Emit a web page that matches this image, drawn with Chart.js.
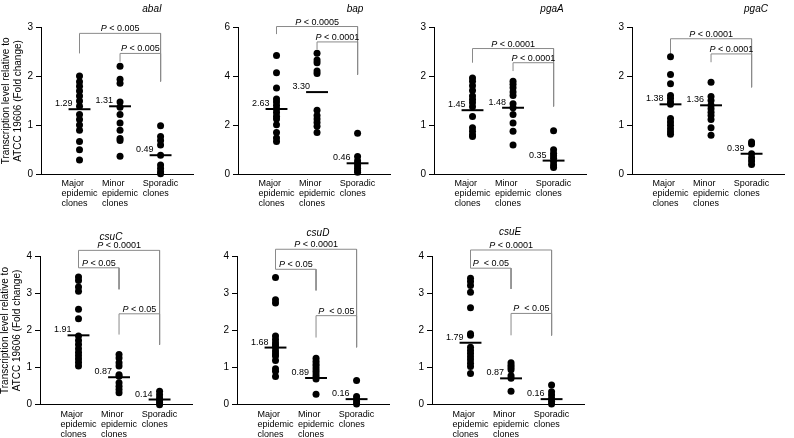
<!DOCTYPE html>
<html>
<head>
<meta charset="utf-8">
<script src="https://cdn.jsdelivr.net/npm/chart.js@4.4.0/dist/chart.umd.min.js"></script>
<style>
  html, body { margin: 0; padding: 0; background: #fff; }
  #wrap { position: relative; width: 794px; height: 438px; overflow: hidden; }
  #wrap canvas { position: absolute; }
</style>
</head>
<body>
<div id="wrap"></div>
<script>
// Categorias e eixos
const grupos = [["Major", "epidemic", "clones"], ["Minor", "epidemic", "clones"], ["Sporadic", "clones"]];
const genes = ["abaI", "bap", "pgaA", "pgaC", "csuC", "csuD", "csuE"];
const yMax = [3, 6, 3, 3, 4, 4, 4];
const yPasso = [1, 2, 1, 1, 1, 1, 1];
const tituloY = ["Transcription level relative to", "ATCC 19606 (Fold change)"];

// abaI
const abaIMajor = [2.01, 1.89, 1.80, 1.70, 1.60, 1.50, 1.39, 1.22, 1.12, 1.01, 0.90, 0.67, 0.50, 0.29];
const abaIMinor = [2.21, 1.94, 1.86, 1.48, 1.37, 1.22, 1.05, 0.90, 0.73, 0.69, 0.37];
const abaISporadic = [0.99, 0.77, 0.69, 0.60, 0.39, 0.19, 0.12, 0.05, 0.01];
const abaIMedia = [1.33, 1.39, 0.39];
const abaIRotulos = ["1.29", "1.31", "0.49"];
const abaIBarras = [[1, 3, 2.88, 2.47, 1.90], [2, 3, 2.47, 2.30, 1.90]];
const abaIP = [" < 0.005", " < 0.005"];

// bap
const bapMajor = [4.86, 4.15, 3.53, 3.08, 2.95, 2.81, 2.67, 2.53, 2.37, 2.26, 2.03, 1.71, 1.48, 1.34];
const bapMinor = [4.95, 4.67, 4.56, 4.22, 4.12, 2.62, 2.40, 2.26, 2.12, 1.96, 1.71];
const bapSporadic = [1.68, 0.73, 0.55, 0.45, 0.35, 0.25, 0.15, 0.08];
const bapMedia = [2.67, 3.36, 0.45];
const bapRotulos = ["2.63", "3.30", "0.46"];
const bapBarras = [[1, 3, 6.04, 5.73, 4.08], [2, 3, 5.41, 5.11, 4.08]];
const bapP = [" < 0.0005", " < 0.0001"];

// pgaA
const pgaAMajor = [1.97, 1.90, 1.81, 1.71, 1.60, 1.53, 1.46, 1.38, 1.18, 0.95, 0.88, 0.81, 0.77];
const pgaAMinor = [1.90, 1.84, 1.77, 1.68, 1.61, 1.44, 1.36, 1.22, 1.05, 0.88, 0.60];
const pgaASporadic = [0.89, 0.50, 0.43, 0.38, 0.33, 0.26, 0.19, 0.14];
const pgaAMedia = [1.31, 1.36, 0.28];
const pgaARotulos = ["1.45", "1.48", "0.35"];
const pgaABarras = [[1, 3, 2.57, 2.28, 1.39], [2, 3, 2.28, 2.11, 1.39]];
const pgaAP = [" < 0.0001", " < 0.0001"];

// pgaC
const pgaCMajor = [2.40, 2.04, 1.85, 1.61, 1.55, 1.48, 1.43, 1.14, 1.07, 1.00, 0.93, 0.87, 0.82];
const pgaCMinor = [1.88, 1.59, 1.51, 1.41, 1.34, 1.27, 1.20, 1.12, 0.95, 0.80];
const pgaCSporadic = [0.66, 0.62, 0.42, 0.34, 0.27, 0.20];
const pgaCMedia = [1.43, 1.41, 0.42];
const pgaCRotulos = ["1.38", "1.36", "0.39"];
const pgaCBarras = [[1, 3, 2.77, 2.46, 1.78], [2, 3, 2.46, 2.29, 1.78]];
const pgaCP = [" < 0.0001", " < 0.0001"];

// csuC
const csuCMajor = [3.44, 3.35, 3.17, 3.06, 2.57, 2.32, 1.85, 1.73, 1.62, 1.51, 1.41, 1.32, 1.23, 1.14, 1.04];
const csuCMinor = [1.35, 1.26, 1.13, 1.04, 0.81, 0.77, 0.59, 0.50, 0.41, 0.32];
const csuCSporadic = [0.36, 0.27, 0.18, 0.11, 0.05, 0.00];
const csuCMedia = [1.87, 0.74, 0.14];
const csuCRotulos = ["1.91", "0.87", "0.14"];
const csuCBarras = [[1, 3, 4.16, 3.69, 1.62], [1, 2, 3.69, 3.69, 3.11], [2, 3, 2.45, 1.89, 1.62]];
const csuCP = [" < 0.0001", " < 0.05", " < 0.05"];

// csuD
const csuDMajor = [3.43, 2.83, 2.74, 1.85, 1.76, 1.67, 1.61, 1.54, 1.45, 1.37, 1.31, 1.19, 0.97, 0.90, 0.76];
const csuDMinor = [1.25, 1.17, 1.10, 1.04, 0.97, 0.90, 0.83, 0.76, 0.69, 0.28];
const csuDSporadic = [0.65, 0.22, 0.15, 0.08, 0.02];
const csuDMedia = [1.54, 0.72, 0.15];
const csuDRotulos = ["1.68", "0.89", "0.16"];
const csuDBarras = [[1, 3, 4.19, 3.65, 1.55], [1, 2, 3.65, 3.65, 3.08], [2, 3, 2.40, 1.81, 1.55]];
const csuDP = [" < 0.0001", " < 0.05", "  < 0.05"];

// csuE
const csuEMajor = [3.41, 3.32, 3.21, 3.03, 2.61, 1.91, 1.87, 1.55, 1.46, 1.38, 1.29, 1.21, 1.12, 1.03, 0.84];
const csuEMinor = [1.13, 1.06, 1.00, 0.94, 0.78, 0.71, 0.36];
const csuESporadic = [0.53, 0.35, 0.26, 0.17, 0.09, 0.02];
const csuEMedia = [1.67, 0.71, 0.15];
const csuERotulos = ["1.79", "0.87", "0.16"];
const csuEBarras = [[1, 3, 4.17, 3.68, 1.87], [1, 2, 3.68, 3.68, 3.12], [2, 3, 2.46, 1.87, 1.87]];
const csuEP = [" < 0.0001", "  < 0.05", "  < 0.05"];

const paineis = [
  { pontos: [abaIMajor, abaIMinor, abaISporadic], media: abaIMedia, rotulos: abaIRotulos, barras: abaIBarras, p: abaIP },
  { pontos: [bapMajor, bapMinor, bapSporadic], media: bapMedia, rotulos: bapRotulos, barras: bapBarras, p: bapP },
  { pontos: [pgaAMajor, pgaAMinor, pgaASporadic], media: pgaAMedia, rotulos: pgaARotulos, barras: pgaABarras, p: pgaAP },
  { pontos: [pgaCMajor, pgaCMinor, pgaCSporadic], media: pgaCMedia, rotulos: pgaCRotulos, barras: pgaCBarras, p: pgaCP },
  { pontos: [csuCMajor, csuCMinor, csuCSporadic], media: csuCMedia, rotulos: csuCRotulos, barras: csuCBarras, p: csuCP },
  { pontos: [csuDMajor, csuDMinor, csuDSporadic], media: csuDMedia, rotulos: csuDRotulos, barras: csuDBarras, p: csuDP },
  { pontos: [csuEMajor, csuEMinor, csuESporadic], media: csuEMedia, rotulos: csuERotulos, barras: csuEBarras, p: csuEP }
];

// Posição de cada painel na página (eixo y, topo, área do gráfico, título)
const layout = [
  { eixo: 41, topo: 0, alt: 215, areaTopo: 27.5, areaAlt: 146.8, titulo: [152, 9] },
  { eixo: 238, topo: 0, alt: 215, areaTopo: 27.5, areaAlt: 146.8, titulo: [355, 9] },
  { eixo: 434, topo: 0, alt: 215, areaTopo: 27.5, areaAlt: 146.8, titulo: [552, 9] },
  { eixo: 632, topo: 0, alt: 215, areaTopo: 27.5, areaAlt: 146.8, titulo: [756, 9] },
  { eixo: 40, topo: 215, alt: 223, areaTopo: 41.3, areaAlt: 148.4, titulo: [111, 237] },
  { eixo: 237, topo: 215, alt: 223, areaTopo: 41.3, areaAlt: 148.4, titulo: [318, 233] },
  { eixo: 432, topo: 215, alt: 223, areaTopo: 41.3, areaAlt: 148.4, titulo: [510, 232] }
];

const FONTE = "'Liberation Sans', Arial, sans-serif";
const LARGURA = 200;
const ESQ = 41;
const AREA_L = 152;
const MEIA = 0.27;

// Textos: médias, valores de P, categorias e título do gene
function pluginTextos(i) {
  const p = paineis[i];
  const L = layout[i];
  return {
    id: 'textos' + i,
    afterDatasetsDraw(chart) {
      const { ctx, scales: { x, y } } = chart;
      ctx.save();
      ctx.fillStyle = '#000';

      // rótulos das médias
      ctx.font = '9px ' + FONTE;
      ctx.textAlign = 'right';
      ctx.textBaseline = 'alphabetic';
      p.media.forEach((m, k) => {
        const px = x.getPixelForValue(k + 1 - MEIA);
        const py = y.getPixelForValue(m);
        ctx.fillText(p.rotulos[k], px + 4, py - 3);
      });

      // valores de P sobre os colchetes
      ctx.textAlign = 'left';
      p.barras.forEach((b, k) => {
        const cx = (x.getPixelForValue(b[0]) + x.getPixelForValue(b[1])) / 2;
        const ty = y.getPixelForValue(b[2]) - 2;
        ctx.font = 'italic 9px ' + FONTE;
        const wP = ctx.measureText('P').width;
        ctx.font = '9px ' + FONTE;
        const wR = ctx.measureText(p.p[k]).width;
        const x0 = cx - (wP + wR) / 2;
        ctx.font = 'italic 9px ' + FONTE;
        ctx.fillText('P', x0, ty);
        ctx.font = '9px ' + FONTE;
        ctx.fillText(p.p[k], x0 + wP, ty);
      });

      // categorias abaixo do eixo x
      ctx.font = '9px ' + FONTE;
      ctx.textBaseline = 'middle';
      const base = y.getPixelForValue(0);
      grupos.forEach((linhas, k) => {
        const larg = Math.max(...linhas.map(t => ctx.measureText(t).width));
        const x0 = x.getPixelForValue(k + 1) - larg / 2;
        linhas.forEach((t, j) => ctx.fillText(t, x0, base + 9.5 + j * 10));
      });

      // título do gene
      ctx.font = 'italic 10px ' + FONTE;
      ctx.textAlign = 'center';
      ctx.fillText(genes[i], L.titulo[0] - (L.eixo - ESQ), L.titulo[1] - L.topo);
      ctx.restore();
    }
  };
}

function criarPainel(i) {
  const p = paineis[i];
  const L = layout[i];
  const canvas = document.createElement('canvas');
  canvas.width = LARGURA;
  canvas.height = L.alt;
  canvas.style.left = (L.eixo - ESQ) + 'px';
  canvas.style.top = L.topo + 'px';
  document.getElementById('wrap').appendChild(canvas);

  const datasets = [];
  p.pontos.forEach((vals, k) => {
    // linha da média
    datasets.push({
      data: [{ x: k + 1 - MEIA, y: p.media[k] }, { x: k + 1 + MEIA, y: p.media[k] }],
      showLine: true, borderColor: '#000', borderWidth: 2, pointRadius: 0, clip: false
    });
    // pontos
    datasets.push({
      data: vals.map(v => ({ x: k + 1, y: v })),
      pointRadius: 3.5, pointBackgroundColor: '#000', pointBorderWidth: 0, clip: false
    });
  });
  // colchetes de significância
  p.barras.forEach(b => {
    datasets.push({
      data: [{ x: b[0], y: b[3] }, { x: b[0], y: b[2] }, { x: b[1], y: b[2] }, { x: b[1], y: b[4] }],
      showLine: true, borderColor: '#8a8a8a', borderWidth: 1, pointRadius: 0, clip: false
    });
  });

  const comTitulo = (i === 0 || i === 4);

  new Chart(canvas, {
    type: 'scatter',
    data: { datasets },
    options: {
      responsive: false,
      animation: false,
      devicePixelRatio: 1,
      events: [],
      layout: { padding: { top: L.areaTopo, left: 0, right: LARGURA - ESQ - AREA_L, bottom: 0 } },
      plugins: { legend: { display: false }, tooltip: { enabled: false } },
      scales: {
        x: {
          type: 'linear', min: 0.05, max: 3.8,
          grid: { display: false },
          border: { color: '#000', width: 1 },
          ticks: { display: false },
          afterFit: s => { s.height = L.alt - L.areaTopo - L.areaAlt; }
        },
        y: {
          min: 0, max: yMax[i],
          ticks: { stepSize: yPasso[i], color: '#000', padding: 3, font: { size: 10, family: FONTE } },
          grid: { drawOnChartArea: false, tickLength: 5, color: '#000' },
          border: { color: '#000', width: 1 },
          title: {
            display: comTitulo, text: tituloY, color: '#000', padding: 0,
            font: { size: 10, family: FONTE, lineHeight: 1.2 }
          },
          afterFit: s => { s.width = ESQ; }
        }
      }
    },
    plugins: [pluginTextos(i)]
  });
}

genes.forEach((_, i) => criarPainel(i));
</script>
</body>
</html>
